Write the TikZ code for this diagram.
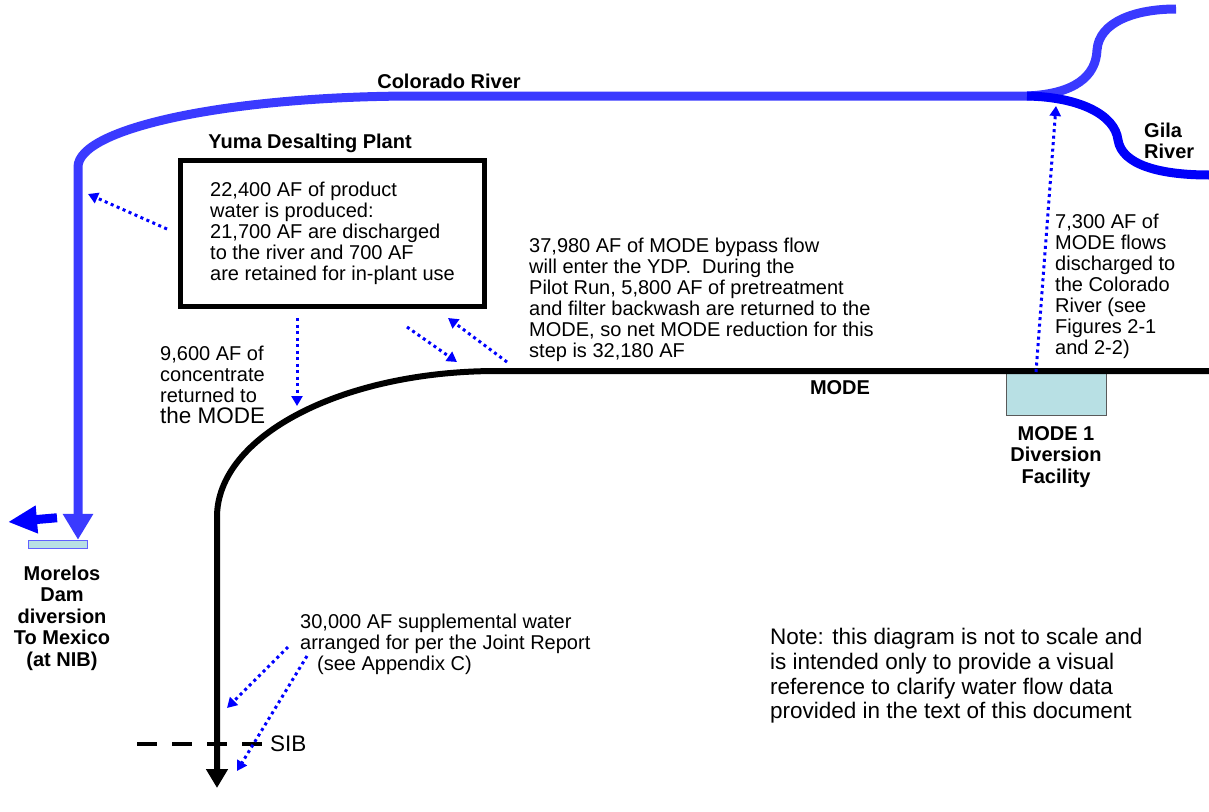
\documentclass[tikz,border=0pt]{standalone}
\usepackage{fontspec}
\setmainfont{Liberation Sans}
\usetikzlibrary{arrows.meta,positioning}
\definecolor{riverblue}{RGB}{58,58,255}
\definecolor{gilablue}{RGB}{0,0,250}
\definecolor{flowblue}{RGB}{0,0,255}
\definecolor{damfill}{RGB}{184,224,228}
\tikzset{
  txt/.style={inner sep=0pt, align=left, font=\fontsize{20}{21}\selectfont},
  bigtxt/.style={inner sep=0pt, align=left, font=\fontsize{22.5}{24.6}\selectfont},
  lbl/.style={inner sep=0pt, align=center, font=\fontsize{20}{21.5}\selectfont\bfseries},
  river/.style={line width=9pt, riverblue},
  modeline/.style={line width=6pt, black},
  flow/.style={flowblue, line width=3pt, dash pattern=on 3pt off 3.5pt, -{Triangle[length=10pt,width=11pt]}},
  sibline/.style={line width=4.5pt, dash pattern=on 20pt off 15pt}
}
\begin{document}
\begin{tikzpicture}[x=1pt,y=-1pt]
\useasboundingbox (0,0) rectangle (1209,811);
\node[draw, line width=5pt, outer sep=0pt, minimum width=304pt, minimum height=146pt, txt] (ydp) at (332.5,233.5) {22,400 AF of product\\water is produced:\\21,700 AF are discharged\\to the river and 700 AF\\are retained for in-plant use};
\node[lbl] (ydplbl) at (310,143) {Yuma Desalting Plant};
\node[lbl] (colorado) at (449,81) {Colorado River};
\node[lbl, align=left, anchor=west] (gila) at (1144,141) {Gila\\River};
\node[lbl] (mode) at (840,388) {MODE};
\node[draw=gray!70!black, fill=damfill, line width=1pt, inner sep=0pt, minimum width=100pt, minimum height=43pt] (div) at (1056,394) {};
\node[lbl, below=10pt of div] (divlbl) {MODE 1\\Diversion\\Facility};
\node[txt, anchor=west] (bypass) at (529,300) {37,980 AF of MODE bypass flow\\will enter the YDP.\ \ During the\\Pilot Run, 5,800 AF of pretreatment\\and filter backwash are returned to the\\MODE, so net MODE reduction for this\\step is 32,180 AF};
\node[txt, anchor=west] (dischg) at (1055,286.5) {7,300 AF of\\MODE flows\\discharged to\\the Colorado\\River (see\\Figures 2-1\\and 2-2)};
\node[txt, anchor=west] (conc) at (160,385) {9,600 AF of\\concentrate\\returned to\\{\fontsize{22.5}{24}\selectfont the MODE}};
\node[draw=riverblue!80, fill=damfill, line width=1.5pt, inner sep=0pt, minimum width=59pt, minimum height=8pt] (dam) at (58,544.5) {};
\node[lbl] (morelos) at (62,618) {Morelos\\Dam\\diversion\\To Mexico\\(at NIB)};
\node[txt, anchor=west] (supp) at (300,644) {30,000 AF supplemental water\\arranged for per the Joint Report\\\hspace*{17pt}(see Appendix C)};
\node[bigtxt, anchor=west] (sib) at (270,744) {SIB};
\node[bigtxt, anchor=west] (note) at (770,676) {Note: this diagram is not to scale and\\is intended only to provide a visual\\reference to clarify water flow data\\provided in the text of this document};
\coordinate (conf) at (1027,96);
\coordinate (modeE) at (1209,371);
\coordinate (modeS) at (217,788);
\coordinate (mexico) at (8,522);
\coordinate (sibW) at (137,744);
\coordinate (crL) at (88,194);
\coordinate (concin) at (297,406);
\coordinate (bypin) at (457,362);
\coordinate (bypout) at (448,318);
\coordinate (bypfrom) at (507,362);
\coordinate (crR) at (1056,106);
\coordinate (suppA) at (227,708);
\coordinate (suppB) at (237,771);
\draw[river, -{Triangle[length=26pt,width=29pt]}] (conf) -- (417,96) .. controls (229,96) and (78,128) .. (78,167) -- ([xshift=20pt]dam.north);
\draw[river] (conf) .. controls (1075,94) and (1096,76) .. (1097,50) .. controls (1099,22) and (1135,9) .. (1176,9);
\draw[river, gilablue] (conf) .. controls (1080,97) and (1115,115) .. (1118,140) .. controls (1122,165) and (1160,175) .. (1209,175);
\draw[line width=9pt, flowblue, -{Triangle[length=29pt,width=26pt]}] ([xshift=-1pt,yshift=22pt]dam.north) -- (mexico);
\draw[modeline, -{Triangle[length=19pt,width=21pt]}] (modeE) -- (497,371) .. controls (342,371) and (217,436) .. (217,517) -- (modeS);
\draw[sibline] (sibW) -- ([xshift=-8pt]sib.west);
\draw[flow] ([xshift=-13.5pt,yshift=4.5pt]ydp.west) -- (crL);
\draw[flow] ([xshift=-35.5pt,yshift=-11.5pt]ydp.south) -- (concin);
\draw[flow] ([xshift=-77.5pt,yshift=-20.5pt]ydp.south east) -- (bypin);
\draw[flow] (bypfrom) -- (bypout);
\draw[flow] ([xshift=-20pt]div.north) -- (crR);
\draw[flow] ([xshift=-12pt,yshift=-3pt]supp.west) -- (suppA);
\draw[flow] ([xshift=7pt,yshift=-12pt]supp.west) -- (suppB);
\end{tikzpicture}
\end{document}
